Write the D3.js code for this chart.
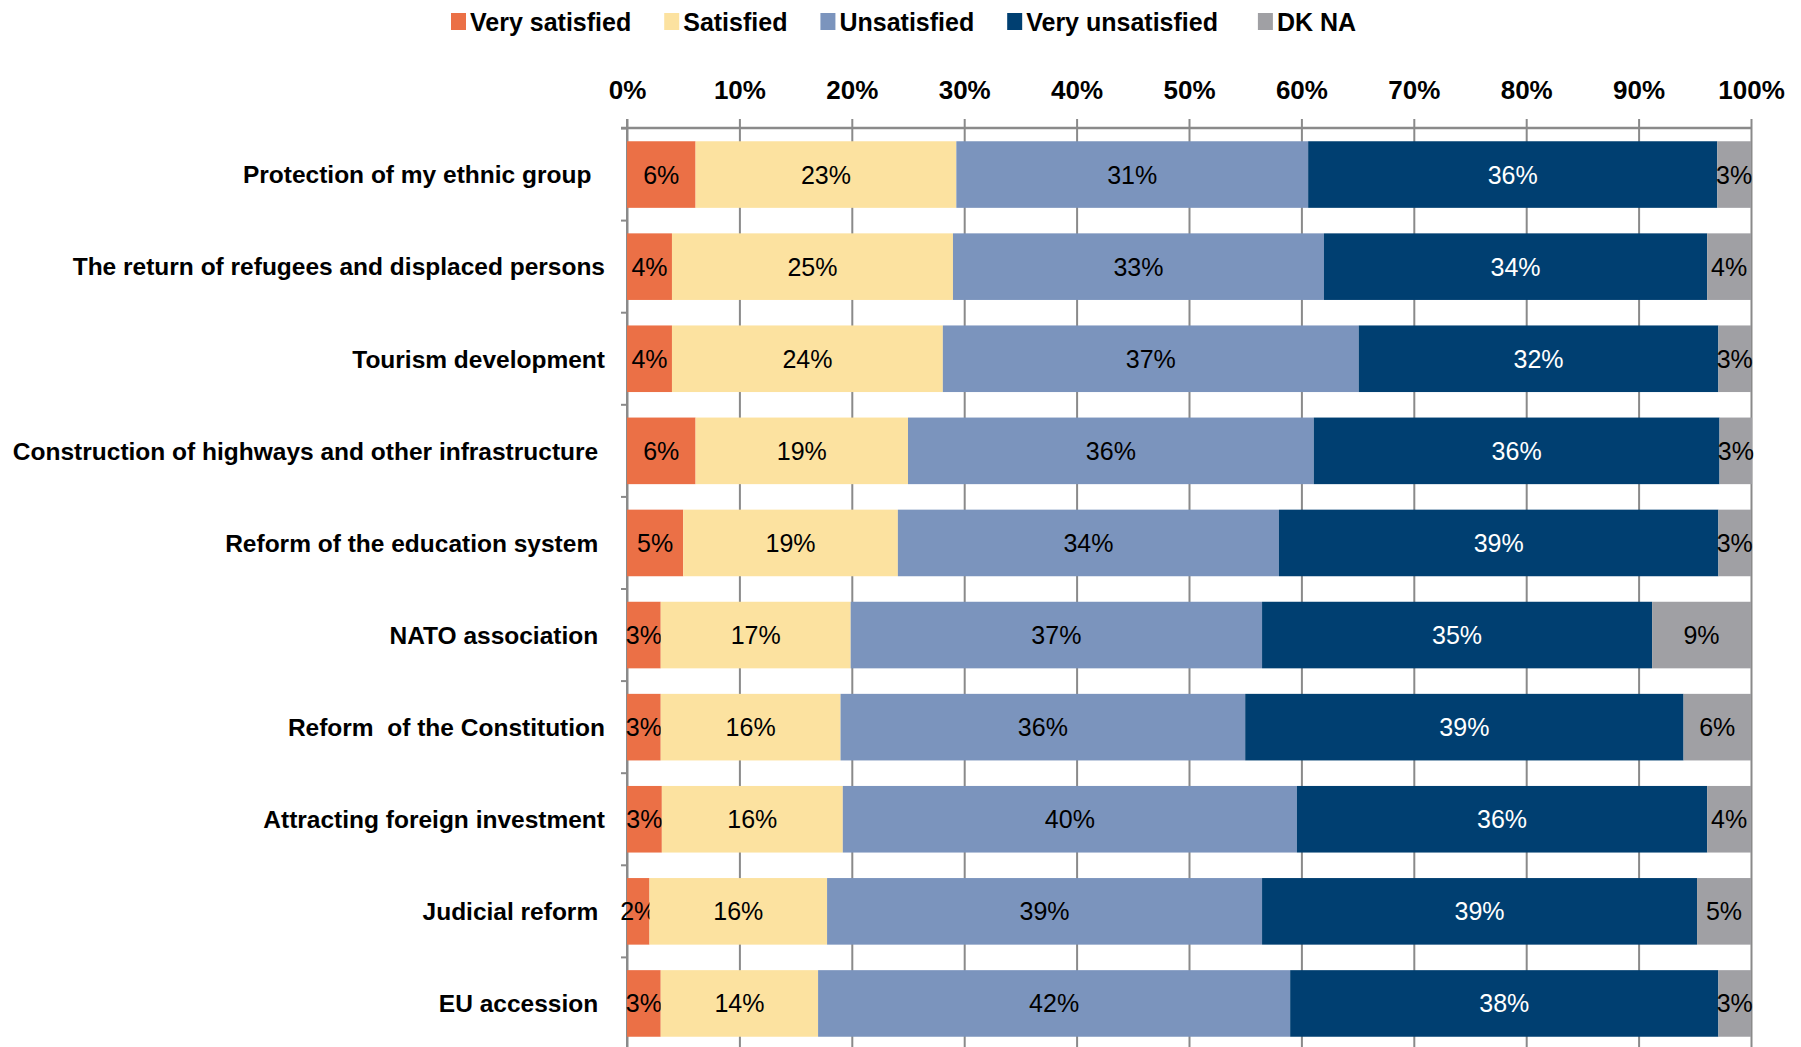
<!DOCTYPE html>
<html>
<head>
<meta charset="utf-8">
<script src="https://cdn.jsdelivr.net/npm/d3@7"></script>
<style>
  body { margin: 0; background: #fff; }
  text { font-family: "Liberation Sans", Arial, sans-serif; white-space: pre; }
</style>
</head>
<body>
<div class="chart"></div>
<script>
const width = 1801;
const height = 1047;

// categories (trailing spaces kept as in the original labels)
const categories = [
  "Protection of my ethnic group  ",
  "The return of refugees and displaced persons",
  "Tourism development",
  "Construction of highways and other infrastructure ",
  "Reform of the education system ",
  "NATO association ",
  "Reform  of the Constitution",
  "Attracting foreign investment",
  "Judicial reform ",
  "EU accession "
]
const seriesNames = ["Very satisfied", "Satisfied", "Unsatisfied", "Very unsatisfied", "DK NA"]
const legendLabels = ["Very satisfied", "Satisfied", "Unsatisfied", "Very unsatisfied ", "DK NA"]
const seriesColors = ["#EB7046", "#FCE2A0", "#7B94BD", "#003F71", "#A0A0A4"]

const verySatisfied   = [6.1, 4.0, 4.0, 6.1, 5.0, 3.0, 3.0, 3.1, 2.0, 3.0]
const satisfied       = [23.2, 25.0, 24.1, 18.9, 19.1, 16.9, 16.0, 16.1, 15.8, 14.0]
const unsatisfied     = [31.3, 33.0, 37.0, 36.1, 33.9, 36.6, 36.0, 40.4, 38.7, 42.0]
const veryUnsatisfied = [36.4, 34.1, 32.0, 36.1, 39.1, 34.7, 39.0, 36.5, 38.7, 38.1]
const dkNa            = [3.0, 3.9, 2.9, 2.9, 2.9, 8.8, 6.0, 3.9, 4.8, 2.9]

const xTicks = [0, 10, 20, 30, 40, 50, 60, 70, 80, 90, 100]

const data = categories.map((c, i) => ({
    category: c,
    "Very satisfied": verySatisfied[i],
    "Satisfied": satisfied[i],
    "Unsatisfied": unsatisfied[i],
    "Very unsatisfied": veryUnsatisfied[i],
    "DK NA": dkNa[i]
}))

const svg = d3.select('.chart').append('svg')
    .attr("width", width)
    .attr("height", height)

const xScale = d3.scaleLinear()
    .domain([0, 100])
    .range([627, 1751])

const yScale = d3.scaleBand()
    .domain(categories)
    .range([128.5, 1049.5])
    .paddingInner(0.277)
    .paddingOuter(0.1385)

const color = d3.scaleOrdinal()
    .domain(seriesNames)
    .range(seriesColors)

const gridColor = "#8a8a8a"

// vertical gridlines (behind bars), poking above the axis line
const grid = svg.append("g")
    .attr("class", "grid")
    .attr("transform", "translate(0,119)")
    .call(d3.axisBottom(xScale).tickValues(xTicks).tickSize(height - 119).tickFormat(""))
grid.select(".domain").remove()
grid.selectAll("line").attr("stroke", gridColor).attr("stroke-width", 2)

// left axis with small ticks at band boundaries
const step = yScale.step()
const bounds = d3.range(categories.length + 1).map(i => yScale.range()[0] + i * step)
svg.append("line")
    .attr("x1", xScale(0)).attr("x2", xScale(0))
    .attr("y1", 119).attr("y2", height)
    .attr("stroke", gridColor).attr("stroke-width", 2)
svg.selectAll(".ytick")
    .data(bounds)
    .enter()
    .append("line")
    .attr("class", "ytick")
    .attr("x1", xScale(0) - 6).attr("x2", xScale(0))
    .attr("y1", d => d).attr("y2", d => d)
    .attr("stroke", gridColor).attr("stroke-width", 2)

// stacked bars
const stack = d3.stack().keys(seriesNames)
const layers = stack(data)

const layer = svg.selectAll(".layer")
    .data(layers)
    .enter()
    .append("g")
    .attr("class", "layer")
    .style("fill", d => color(d.key))

layer.selectAll("rect")
    .data(d => d)
    .enter()
    .append("rect")
    .attr("x", d => xScale(d[0]))
    .attr("y", d => yScale(d.data.category))
    .attr("width", d => xScale(d[1]) - xScale(d[0]))
    .attr("height", yScale.bandwidth())

// top axis line + tick labels
svg.append("line")
    .attr("x1", xScale(0) - 6).attr("x2", xScale(100) + 1)
    .attr("y1", 128).attr("y2", 128)
    .attr("stroke", gridColor).attr("stroke-width", 2.5)

const xAxis = svg.append("g")
    .attr("class", "axis x-axis")
    .attr("transform", "translate(0,128)")
    .call(d3.axisTop(xScale).tickValues(xTicks).tickSize(0).tickPadding(29).tickFormat(d => d + "%"))
xAxis.select(".domain").remove()
xAxis.selectAll("text")
    .style("font-family", '"Liberation Sans", Arial, sans-serif')
    .style("font-size", "26px")
    .style("font-weight", "bold")
    .attr("fill", "#000")

// data labels
layer.selectAll(".value")
    .data(d => d.map(v => ({v: v, key: d.key})))
    .enter()
    .append("text")
    .attr("class", "value")
    .attr("x", d => (xScale(d.v[0]) + xScale(d.v[1])) / 2)
    .attr("y", d => yScale(d.v.data.category) + yScale.bandwidth() / 2)
    .attr("dy", "0.36em")
    .attr("text-anchor", "middle")
    .style("font-size", "25px")
    .style("fill", d => d.key === "Very unsatisfied" ? "#fff" : "#000")
    .text(d => Math.round(d.v[1] - d.v[0]) + "%")

// category labels
svg.selectAll(".cat")
    .data(categories)
    .enter()
    .append("text")
    .attr("class", "cat")
    .attr("x", 605)
    .attr("y", d => yScale(d) + yScale.bandwidth() / 2)
    .attr("dy", "0.36em")
    .attr("text-anchor", "end")
    .style("font-size", "24.5px")
    .style("font-weight", "bold")
    .text(d => d)

// legend
const legend = svg.append("g").attr("class", "legend")
let lx = 451
seriesNames.forEach((name, i) => {
    legend.append("rect")
        .attr("x", lx).attr("y", 13)
        .attr("width", 15).attr("height", 17)
        .style("fill", color(name))
    const t = legend.append("text")
        .attr("x", lx + 19).attr("y", 22)
        .attr("dy", "0.36em")
        .style("font-size", "25px")
        .style("font-weight", "bold")
        .text(legendLabels[i])
    lx += 19 + t.node().getComputedTextLength() + 33
})
</script>
</body>
</html>
